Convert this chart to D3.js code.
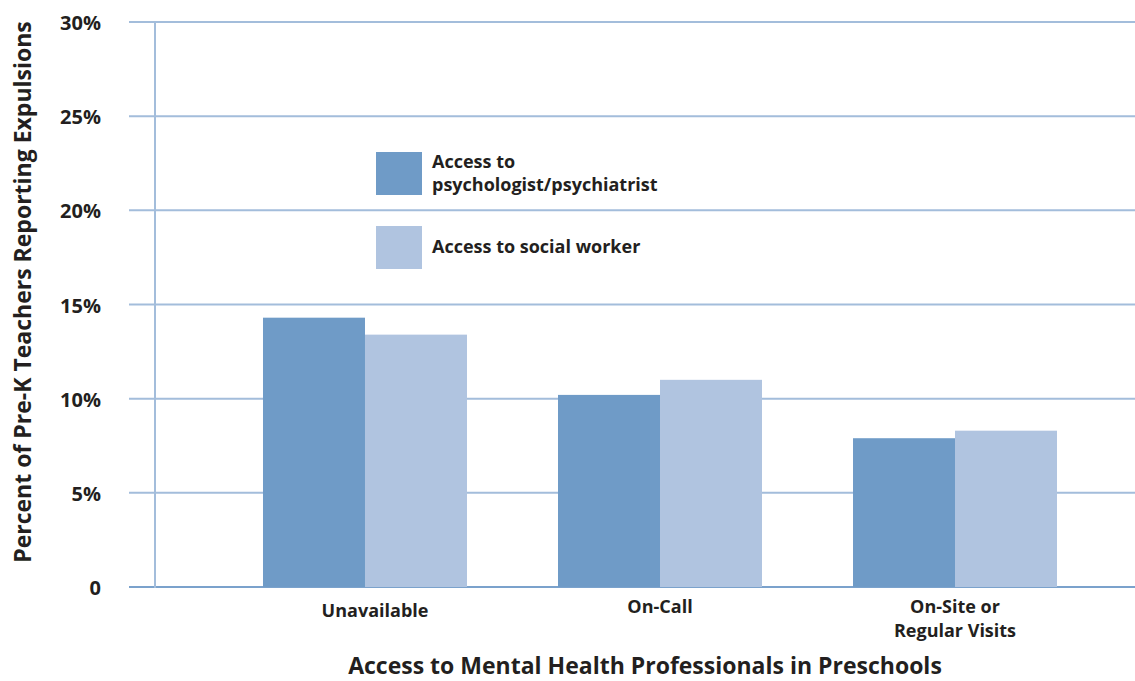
<!DOCTYPE html>
<html>
<head>
<meta charset="utf-8">
<script src="https://cdn.jsdelivr.net/npm/d3@7"></script>
<style>
  body { margin: 0; background: #fff; }
  svg { display: block; }
  text { font-family: "Open Sans", "Noto Sans", sans-serif; font-weight: 700; fill: #231f20; }
</style>
</head>
<body>
<svg id="chart" width="1135" height="681"></svg>
<script>
// Share of pre-K teachers reporting expulsions, by access to mental health professionals
const categories = ["Unavailable", "On-Call", "On-Site or\nRegular Visits"];
const seriesNames = ["Access to\npsychologist/psychiatrist", "Access to social worker"];
const psychologistValues = [14.3, 10.2, 7.9];
const socialWorkerValues = [13.4, 11.0, 8.3];
const yTicks = [0, 5, 10, 15, 20, 25, 30];
const yTickLabels = ["0", "5%", "10%", "15%", "20%", "25%", "30%"];

const colors = ["#6f9bc7", "#b0c4e0"];
const series = [psychologistValues, socialWorkerValues];

const svg = d3.select("#chart");
const W = 1135;
const plot = { left: 155, right: 1135, top: 22, bottom: 587 };

const y = d3.scaleLinear().domain([0, 30]).range([plot.bottom, plot.top]);

const x = d3.scaleBand()
  .domain(categories)
  .range([217.5, 1102.5])
  .paddingInner(0.3085)
  .paddingOuter(0.1542);

const xInner = d3.scaleBand()
  .domain(d3.range(series.length))
  .range([0, x.bandwidth()]);

// horizontal gridlines
svg.append("g").selectAll("line")
  .data(yTicks)
  .join("line")
  .attr("x1", 129)
  .attr("x2", W)
  .attr("y1", d => y(d))
  .attr("y2", d => y(d))
  .attr("stroke", d => d === 0 ? "#7ba2cc" : "#a3bddb")
  .attr("stroke-width", 2);

// vertical axis line
svg.append("line")
  .attr("x1", plot.left).attr("x2", plot.left)
  .attr("y1", y(30)).attr("y2", y(0) + 1)
  .attr("stroke", "#a3bddb")
  .attr("stroke-width", 2);

// y tick labels
svg.append("g").selectAll("text")
  .data(yTicks)
  .join("text")
  .attr("x", 101)
  .attr("y", d => y(d) + 8)
  .attr("text-anchor", "end")
  .attr("font-size", 20)
  .text((d, i) => yTickLabels[i]);

// bars
const groups = svg.append("g").selectAll("g")
  .data(categories)
  .join("g")
  .attr("transform", d => `translate(${x(d)},0)`);

groups.selectAll("rect")
  .data((d, ci) => series.map((s, si) => ({ si, v: s[ci] })))
  .join("rect")
  .attr("x", d => xInner(d.si))
  .attr("width", xInner.bandwidth())
  .attr("y", d => y(d.v))
  .attr("height", d => y(0) - y(d.v))
  .attr("fill", d => colors[d.si]);

// category labels
const catLabels = svg.append("g").selectAll("text")
  .data(categories)
  .join("text")
  .attr("text-anchor", "middle")
  .attr("font-size", 18)
  .attr("transform", d => {
    const first = d === "Unavailable";
    return `translate(${x(d) + x.bandwidth() / 2 + (first ? 10 : 0)},${first ? 617 : 613})`;
  });
catLabels.selectAll("tspan")
  .data(d => d.split("\n"))
  .join("tspan")
  .attr("x", 0)
  .attr("dy", (d, i) => i === 0 ? 0 : 24)
  .text(d => d);

// axis titles
svg.append("text")
  .attr("x", 645)
  .attr("y", 674)
  .attr("text-anchor", "middle")
  .attr("font-size", 23)
  .text("Access to Mental Health Professionals in Preschools");

svg.append("text")
  .attr("transform", `translate(31,${292}) rotate(-90)`)
  .attr("text-anchor", "middle")
  .attr("font-size", 23)
  .text("Percent of Pre-K Teachers Reporting Expulsions");

// legend
const legend = svg.append("g");
const legendRows = [152, 226];
seriesNames.forEach((name, i) => {
  legend.append("rect")
    .attr("x", 376).attr("y", legendRows[i])
    .attr("width", 46).attr("height", 43)
    .attr("fill", colors[i]);
  const lines = name.split("\n");
  const t = legend.append("text")
    .attr("font-size", 18)
    .attr("x", 432)
    .attr("y", lines.length > 1 ? legendRows[i] + 16 : legendRows[i] + 27);
  t.selectAll("tspan")
    .data(lines)
    .join("tspan")
    .attr("x", 432)
    .attr("dy", (d, j) => j === 0 ? 0 : 23)
    .text(d => d);
});
</script>
</body>
</html>
